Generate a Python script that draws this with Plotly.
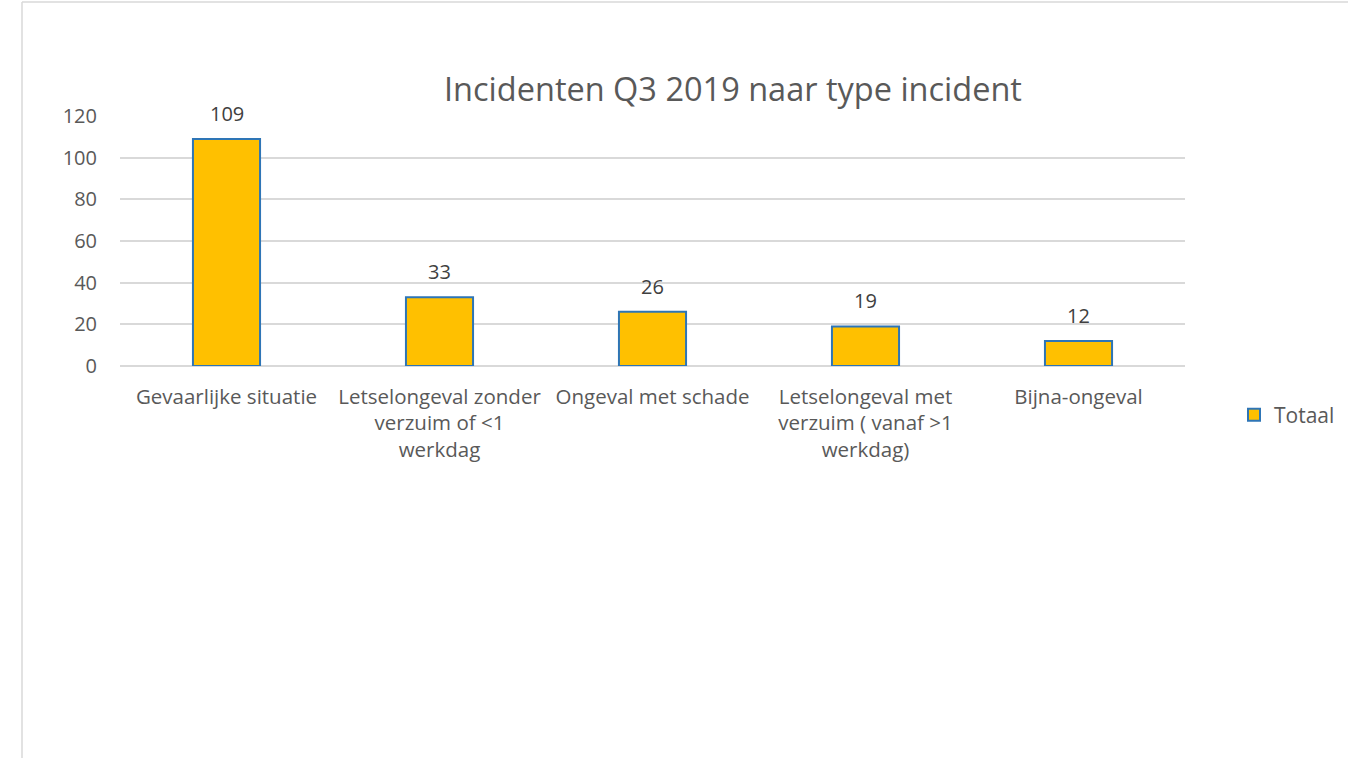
import plotly.graph_objects as go

categories = [
    "Gevaarlijke situatie",
    "Letselongeval zonder<br>verzuim of &lt;1<br>werkdag",
    "Ongeval met schade",
    "Letselongeval met<br>verzuim ( vanaf &gt;1<br>werkdag)",
    "Bijna-ongeval",
]
values = [109, 33, 26, 19, 12]
series_name = "Totaal"
title = "Incidenten Q3 2019 naar type incident"
y_ticks = [0, 20, 40, 60, 80, 100, 120]

FONT = "Open Sans, sans-serif"
TXT = "#595959"

fig = go.Figure()
fig.add_trace(go.Bar(
    x=categories, y=values, name=series_name,
    marker=dict(color="#FFC000", line=dict(color="#2E75B6", width=2)),
    width=0.315, showlegend=True,
))

for c, v in zip(categories, values):
    fig.add_annotation(x=c, y=v, text=str(v), showarrow=False, xanchor="center",
                       yanchor="bottom", yshift=10,
                       font=dict(size=20, color="#404040", family=FONT))

L, R, T, B = 120, 163, 116, 392
W, H = 1348, 758
pw, ph = W - L - R, H - T - B

fig.update_layout(
    width=W, height=H,
    margin=dict(l=L, r=R, t=T, b=B, autoexpand=False),
    paper_bgcolor="white", plot_bgcolor="white",
    font=dict(family=FONT, color=TXT, size=20),
    title=dict(text=title, x=733 / W, xanchor="center", y=1 - 90 / H, yanchor="middle",
               font=dict(size=32.5, color=TXT, family=FONT)),
    showlegend=True,
    legend=dict(x=(1234 - L) / pw, y=1 - (415 - T) / ph, xanchor="left", yanchor="middle",
                font=dict(size=21, color=TXT), itemwidth=30, bgcolor="rgba(0,0,0,0)"),
    xaxis=dict(showline=False, showgrid=False, ticks="", tickfont=dict(size=20.5, color=TXT),
               ticklabelstandoff=16, fixedrange=True),
    yaxis=dict(range=[0, 120], tickvals=y_ticks, showgrid=True, gridcolor="#D9D9D9", gridwidth=1.5,
               zeroline=True, zerolinecolor="#D9D9D9", zerolinewidth=1.5, showline=False,
               tickfont=dict(size=20, color=TXT), ticklabelstandoff=22, fixedrange=True),
)

# chart frame (top and left border)
fig.add_shape(type="line", xref="paper", yref="paper",
              x0=(22 - L) / pw, x1=(W - L) / pw, y0=1 + (T - 2) / ph, y1=1 + (T - 2) / ph,
              line=dict(color="#D9D9D9", width=1.5))
fig.add_shape(type="line", xref="paper", yref="paper",
              x0=(22 - L) / pw, x1=(22 - L) / pw, y0=1 + (T - 2) / ph, y1=-(B) / ph,
              line=dict(color="#D9D9D9", width=1.5))

fig.write_html("out.html", config={"displayModeBar": False},
               post_script="document.body.style.margin='0';document.body.style.overflow='hidden';")
